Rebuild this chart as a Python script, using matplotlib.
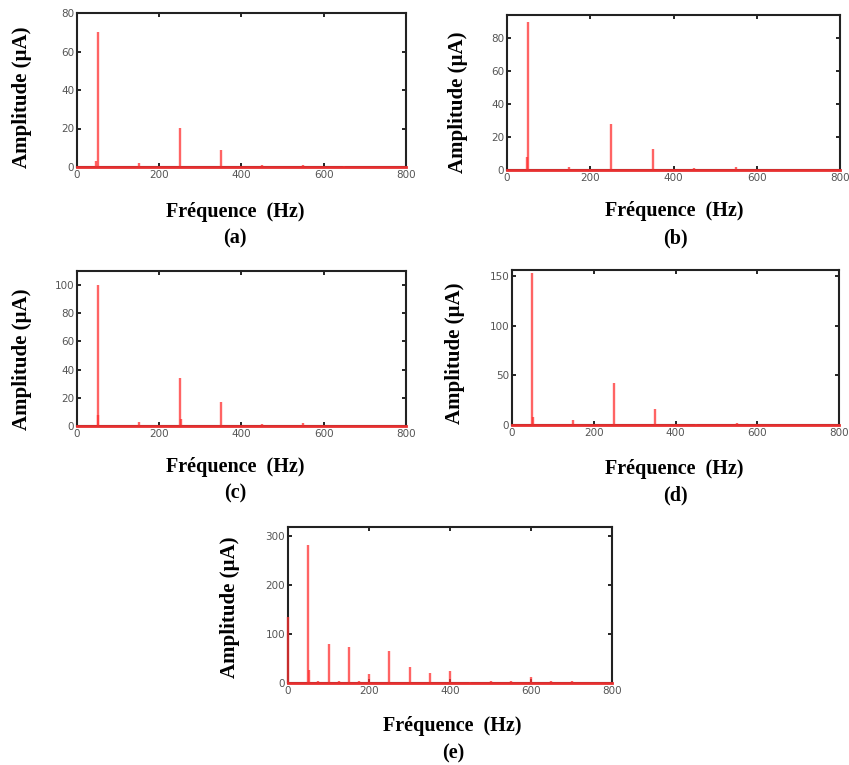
import matplotlib
matplotlib.use("Agg")
import matplotlib.pyplot as plt

W, H = 849, 765

# spectral peaks: frequency (Hz) and amplitude (uA)
freq_a = [50, 47, 150, 250, 350, 450, 550, 650]
amp_a = [70, 3, 2, 20.5, 9, 1, 1, 0.6]

freq_b = [50, 47, 150, 250, 350, 450, 550]
amp_b = [90, 8, 2, 28, 13, 1, 2]

freq_c = [50, 52, 150, 250, 252, 350, 450, 550]
amp_c = [100, 8, 3, 34, 5, 17, 1.5, 2]

freq_d = [50, 52, 150, 250, 350, 450, 550]
amp_d = [153, 8, 5, 42, 16, 1.5, 2]

freq_e = [0, 50, 53, 75, 100, 125, 150, 175, 200, 250, 300, 350, 400, 450, 500, 550, 600, 650, 700]
amp_e = [135, 282, 27, 5, 80, 4, 73, 5, 18, 65, 32, 20, 24, 3, 4, 5, 12, 5, 4]

panels = [
    # freq, amp, ymax, yticks, axes px box (l, t, r, b), label centres, tag
    (freq_a, amp_a, 80, [0, 20, 40, 60, 80], (77, 13, 406, 167), (22, 97), (235, 212), (235, 238), "(a)"),
    (freq_b, amp_b, 94, [0, 20, 40, 60, 80], (507, 15, 840, 170), (458, 102), (674, 211), (675, 238), "(b)"),
    (freq_c, amp_c, 110, [0, 20, 40, 60, 80, 100], (77, 271, 406, 426), (22, 359), (235, 467), (235, 493), "(c)"),
    (freq_d, amp_d, 156, [0, 50, 100, 150], (512, 270, 839, 425), (455, 353), (674, 469), (675, 495), "(d)"),
    (freq_e, amp_e, 319, [0, 100, 200, 300], (288, 527, 612, 683), (230, 607), (452, 726), (453, 753), "(e)"),
]

serif = ["Liberation Serif", "DejaVu Serif"]

fig = plt.figure(figsize=(W / 100, H / 100), dpi=100)

for freq, amp, ymax, yt, box, ylab, xlab, tagpos, tag in panels:
    l, t, r, b = box
    ax = fig.add_axes([l / W, 1 - b / H, (r - l) / W, (b - t) / H])
    ax.vlines(freq, 0, amp, color="#ff3030", alpha=0.75, lw=1.7, clip_on=False, zorder=3)
    ax.plot([0, 800], [0, 0], color="#e83030", lw=2, clip_on=False, zorder=3)
    ax.set_xlim(0, 800)
    ax.set_ylim(0, ymax)
    ax.set_xticks([0, 200, 400, 600, 800])
    ax.set_yticks(yt)
    ax.tick_params(direction="in", top=True, right=True, length=3, width=1.2,
                   labelsize=7.5, labelcolor="#555555", pad=2)
    for s in ax.spines.values():
        s.set_linewidth(1.5)
        s.set_color("#222222")
    fig.text(ylab[0] / W, 1 - ylab[1] / H, "Amplitude (µA)", rotation=90,
             ha="center", va="center", fontsize=15, fontweight="bold", family=serif)
    fig.text(xlab[0] / W, 1 - xlab[1] / H, "Fréquence  (Hz)",
             ha="center", va="center", fontsize=14.5, fontweight="bold", family=serif)
    fig.text(tagpos[0] / W, 1 - tagpos[1] / H, tag,
             ha="center", va="center", fontsize=14.5, fontweight="bold", family=serif)

fig.savefig("out.png", dpi=100)
